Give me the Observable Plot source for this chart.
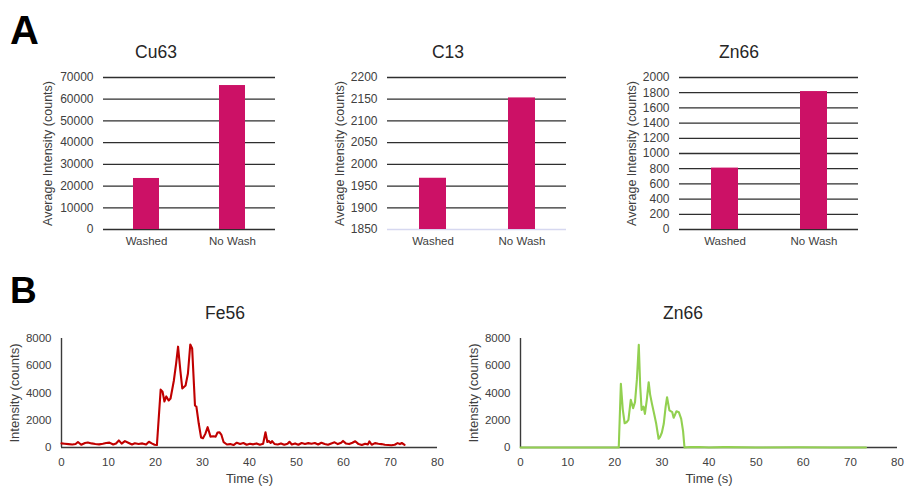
<!DOCTYPE html>
<html><head><meta charset="utf-8">
<script src="https://cdn.jsdelivr.net/npm/d3@7"></script>
<script src="https://cdn.jsdelivr.net/npm/@observablehq/plot@0.6"></script>
<style>
body{margin:0;background:#fff;}
#root{position:relative;width:905px;height:487px;overflow:hidden;font-family:"Liberation Sans",Arial,sans-serif;background:#fff;}
.panel{position:absolute;}
.title{position:absolute;transform:translate(-50%,-50%);font-size:17.5px;color:#262626;white-space:nowrap;}
.letter{position:absolute;font-weight:bold;color:#000;line-height:1;}
</style></head><body><div id="root"></div>
<script>
// ---- Data ----
const categories = ["Washed", "No Wash"];
const cu63Avg = [23500, 66300];
const c13Avg = [1968, 2153];
const zn66Avg = [808, 1815];

const cu63Ticks = [0, 10000, 20000, 30000, 40000, 50000, 60000, 70000];
const c13Ticks = [1850, 1900, 1950, 2000, 2050, 2100, 2150, 2200];
const zn66AvgTicks = [0, 200, 400, 600, 800, 1000, 1200, 1400, 1600, 1800, 2000];
const timeTicks = [0, 10, 20, 30, 40, 50, 60, 70, 80];
const intensityTicks = [0, 2000, 4000, 6000, 8000];

const fe56Time = [0, 0.7, 1.5, 2.3, 3.0, 3.5, 4.2, 5.0, 5.6, 6.4, 7.2, 8.0, 8.8, 9.5, 10.2, 11.0, 11.6, 12.2, 12.8, 13.5, 14.2, 15.0, 15.6, 16.4, 17.2, 18.0, 18.6, 19.2, 19.8, 20.3, 21.1, 21.5, 21.9, 22.3, 22.8, 23.2, 23.9, 24.4, 24.8, 25.3, 25.7, 26.4, 26.9, 27.4, 27.8, 28.4, 28.7, 29.2, 29.7, 30.1, 30.6, 31.1, 31.7, 32.3, 32.8, 33.2, 33.6, 34.0, 34.5, 35.2, 35.9, 36.6, 37.3, 38.0, 38.7, 39.4, 40.1, 40.8, 41.5, 42.2, 42.9, 43.4, 43.8, 44.1, 44.5, 44.8, 45.3, 46.0, 46.7, 47.4, 48.1, 48.5, 49.0, 49.7, 50.4, 51.1, 51.8, 52.5, 53.2, 53.9, 54.6, 55.3, 56.0, 56.7, 57.4, 58.1, 58.8, 59.5, 59.9, 60.5, 61.2, 61.9, 62.5, 63.2, 63.9, 64.6, 65.2, 65.5, 66.0, 66.7, 67.4, 68.1, 68.8, 69.5, 70.2, 70.9, 71.5, 72.0, 72.4, 73.0];
const fe56Counts = [300, 280, 250, 220, 260, 400, 200, 330, 370, 300, 260, 230, 280, 330, 360, 220, 300, 520, 280, 470, 350, 220, 310, 260, 300, 220, 420, 300, 200, 180, 4250, 4100, 3380, 3750, 3450, 3600, 4900, 6200, 7400, 5600, 4330, 4550, 5430, 7560, 7270, 3080, 3000, 1760, 730, 680, 1000, 1490, 800, 820, 800, 1100, 1120, 950, 390, 220, 250, 180, 350, 260, 330, 200, 280, 230, 300, 200, 280, 1120, 400, 480, 330, 470, 260, 220, 300, 200, 280, 420, 220, 300, 200, 330, 260, 320, 280, 330, 220, 350, 250, 200, 300, 380, 250, 350, 480, 300, 250, 350, 460, 250, 180, 280, 230, 450, 200, 320, 280, 250, 200, 180, 160, 200, 320, 250, 330, 200];

const zn66Time = [0, 4, 8, 12, 16, 20.5, 20.85, 21.3, 21.7, 22.1, 22.5, 22.9, 23.4, 23.9, 24.3, 24.7, 25.1, 25.4, 25.7, 26.1, 26.4, 26.8, 27.2, 27.5, 27.9, 28.4, 28.8, 29.3, 29.6, 30.0, 30.4, 30.8, 31.1, 31.6, 32.2, 32.5, 33.1, 33.6, 34.1, 34.5, 34.8, 36.0, 37.0, 38.0, 40.0, 43.0, 44.0, 50.0, 59.0, 66.0, 73.3];
const zn66Counts = [0, 0, 0, 0, 0, 0, 0, 4680, 2800, 1780, 1850, 2030, 3500, 2890, 3330, 5000, 7540, 4500, 2760, 3000, 2470, 3500, 4790, 3900, 3200, 2400, 1740, 640, 760, 1100, 1740, 3000, 3690, 2720, 2590, 2180, 2660, 2590, 2100, 1200, 0, 40, 30, 40, 0, 30, 30, 0, 20, 0, 0];

// ---- Style constants ----
const barColor = "#cc1166";
const gridColor = "#2e2e2e";
const textColor = "#404040";
const fontFamily = '"Liberation Sans", Arial, sans-serif';
const root = document.getElementById("root");

function place(node, left, top) {
  const d = document.createElement("div");
  d.className = "panel";
  d.style.left = left + "px";
  d.style.top = top + "px";
  d.appendChild(node);
  root.appendChild(d);
}
function addText(cls, text, left, top, size) {
  const d = document.createElement("div");
  d.className = cls;
  d.textContent = text;
  d.style.left = left + "px";
  d.style.top = top + "px";
  if (size) d.style.fontSize = size + "px";
  root.appendChild(d);
}

function barPanel(values, ticks, opt) {
  const data = categories.map((c, i) => ({cat: c, v: values[i]}));
  const ymin = ticks[0], ymax = ticks[ticks.length - 1];
  const lightBase = opt.lightBase;
  return Plot.plot({
    width: opt.width, height: 195,
    marginLeft: opt.ml, marginRight: opt.mr, marginTop: 17, marginBottom: 26,
    style: {fontFamily, fontSize: "12px", color: textColor, background: "transparent", overflow: "visible"},
    x: {domain: categories, paddingInner: 0.7, paddingOuter: 0.35},
    y: {domain: [ymin, ymax]},
    marks: [
      Plot.ruleY(lightBase ? ticks.slice(1) : ticks, {stroke: gridColor, strokeWidth: 1.3}),
      lightBase ? Plot.ruleY([ymin], {stroke: "#d6d8f0", strokeWidth: 1.3}) : null,
      Plot.barY(data, {x: "cat", y1: () => ymin, y2: "v", fill: barColor}),
      Plot.axisY({ticks, tickFormat: "d", tickSize: 0, tickPadding: 10, label: null, fontSize: 12}),
      Plot.axisY({ticks: [], label: "Average Intensity (counts)", labelAnchor: "center", labelArrow: "none", labelOffset: opt.lo, fontSize: 12.5}),
      Plot.axisX({tickSize: 0, tickPadding: 7, label: null, fontSize: 11.5})
    ]
  });
}

function linePanel(times, counts, color, opt) {
  const data = times.map((t, i) => ({t, v: counts[i]}));
  return Plot.plot({
    width: opt.width, height: 167,
    marginLeft: opt.ml, marginRight: opt.mr, marginTop: 18, marginBottom: 40,
    style: {fontFamily, fontSize: "11px", color: textColor, background: "transparent", overflow: "visible"},
    x: {domain: [timeTicks[0], timeTicks[timeTicks.length - 1]]},
    y: {domain: [intensityTicks[0], intensityTicks[intensityTicks.length - 1]]},
    marks: [
      Plot.ruleY([intensityTicks[0]], {stroke: "#3a3a3a", strokeWidth: 1.4}),
      Plot.ruleX([timeTicks[0]], {stroke: "#3a3a3a", strokeWidth: 1.4}),
      Plot.line(data, {x: "t", y: "v", stroke: color, strokeWidth: 2.1, strokeLinejoin: "round"}),
      Plot.axisX({ticks: timeTicks, tickSize: 0, tickPadding: 10, label: null, fontSize: 11.5}),
      Plot.axisX({ticks: [], label: "Time (s)", labelAnchor: "center", labelArrow: "none", labelOffset: 35, fontSize: 13}),
      Plot.axisY({ticks: intensityTicks, tickFormat: "d", tickSize: 0, tickPadding: 10, label: null, fontSize: 11.5}),
      Plot.axisY({ticks: [], label: "Intensity (counts)", labelAnchor: "center", labelArrow: "none", labelOffset: 52, fontSize: 13})
    ]
  });
}

place(barPanel(cu63Avg, cu63Ticks, {width: 255, ml: 73, mr: 10, lo: 60}), 30, 60);
place(barPanel(c13Avg, c13Ticks, {width: 255, ml: 67, mr: 9, lo: 52, lightBase: true}), 320, 60);
place(barPanel(zn66Avg, zn66AvgTicks, {width: 260, ml: 69, mr: 12, lo: 52}), 610, 60);
place(linePanel(fe56Time, fe56Counts, "#c00000", {width: 450, ml: 61, mr: 13}), 0, 320);
place(linePanel(zn66Time, zn66Counts, "#92d050", {width: 455, ml: 70, mr: 8}), 450, 320);

addText("letter", "A", 10, 10, 40);
addText("letter", "B", 10, 272, 37);
addText("title", "Cu63", 156, 52);
addText("title", "C13", 448, 52);
addText("title", "Zn66", 739, 52);
addText("title", "Fe56", 225, 313);
addText("title", "Zn66", 683, 313);
</script></body></html>
